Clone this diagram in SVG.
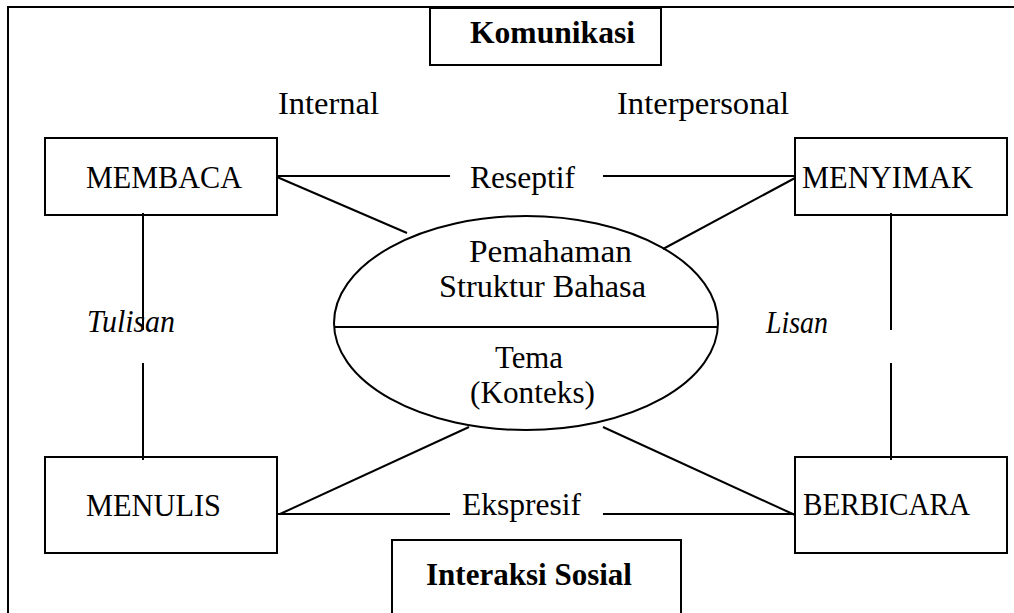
<svg xmlns="http://www.w3.org/2000/svg" width="1014" height="613" viewBox="0 0 1014 613">
<style>
.s{fill:none;stroke:#000;stroke-width:2}
.t{font-family:"Liberation Serif","Times New Roman",serif;font-size:31px;fill:#000}
.b{font-weight:bold}
.i{font-style:italic}
</style>
<rect width="1014" height="613" fill="#fff"/>
<path class="s" d="M8,620 V7 H1020"/>
<g id="komunikasi"><rect class="s" x="430" y="8" width="231" height="57"/><text class="t b" x="470" y="43" textLength="165" lengthAdjust="spacingAndGlyphs">Komunikasi</text></g>
<g id="internal"><text class="t" x="278" y="114" textLength="101" lengthAdjust="spacingAndGlyphs">Internal</text></g>
<g id="interpersonal"><text class="t" x="617" y="114" textLength="172" lengthAdjust="spacingAndGlyphs">Interpersonal</text></g>
<g id="membaca"><rect class="s" x="45" y="138" width="232" height="77"/><text class="t" x="86" y="188" textLength="156" lengthAdjust="spacingAndGlyphs">MEMBACA</text></g>
<g id="menyimak"><rect class="s" x="795" y="138" width="212" height="77"/><text class="t" x="802" y="188" textLength="171" lengthAdjust="spacingAndGlyphs">MENYIMAK</text></g>
<g id="menulis"><rect class="s" x="45" y="457" width="232" height="96"/><text class="t" x="86" y="516" textLength="135" lengthAdjust="spacingAndGlyphs">MENULIS</text></g>
<g id="berbicara"><rect class="s" x="795" y="457" width="212" height="96"/><text class="t" x="803" y="515" textLength="167" lengthAdjust="spacingAndGlyphs">BERBICARA</text></g>
<g id="interaksi"><rect class="s" x="392" y="540" width="289" height="90"/><text class="t b" x="426" y="585" textLength="206" lengthAdjust="spacingAndGlyphs">Interaksi Sosial</text></g>
<g id="ellipse">
<ellipse class="s" cx="526" cy="323" rx="192" ry="107"/>
<line class="s" x1="334" y1="327" x2="718" y2="327"/>
<text class="t" x="469" y="262" textLength="163" lengthAdjust="spacingAndGlyphs">Pemahaman</text>
<text class="t" x="439" y="297" textLength="207" lengthAdjust="spacingAndGlyphs">Struktur Bahasa</text>
<text class="t" x="495" y="368" textLength="68" lengthAdjust="spacingAndGlyphs">Tema</text>
<text class="t" x="470" y="403" textLength="125" lengthAdjust="spacingAndGlyphs">(Konteks)</text>
</g>
<g id="labels">
<text class="t" x="470" y="188" textLength="105" lengthAdjust="spacingAndGlyphs">Reseptif</text>
<text class="t" x="462" y="515" textLength="119" lengthAdjust="spacingAndGlyphs">Ekspresif</text>
<text class="t i" x="87" y="332" textLength="88" lengthAdjust="spacingAndGlyphs">Tulisan</text>
<text class="t i" x="766" y="333" textLength="62" lengthAdjust="spacingAndGlyphs">Lisan</text>
</g>
<g id="connectors" class="s">
<line x1="277" y1="176" x2="450" y2="176"/>
<line x1="603" y1="176" x2="795" y2="176"/>
<line x1="277" y1="177" x2="407" y2="233"/>
<line x1="795" y1="178" x2="663" y2="249"/>
<line x1="143" y1="213" x2="143" y2="330"/>
<line x1="143" y1="363" x2="143" y2="460"/>
<line x1="891" y1="213" x2="891" y2="330"/>
<line x1="891" y1="363" x2="891" y2="460"/>
<line x1="280" y1="514" x2="469" y2="427"/>
<line x1="795" y1="515" x2="603" y2="427"/>
<line x1="277" y1="514" x2="450" y2="514"/>
<line x1="603" y1="514" x2="795" y2="514"/>
</g>
</svg>
